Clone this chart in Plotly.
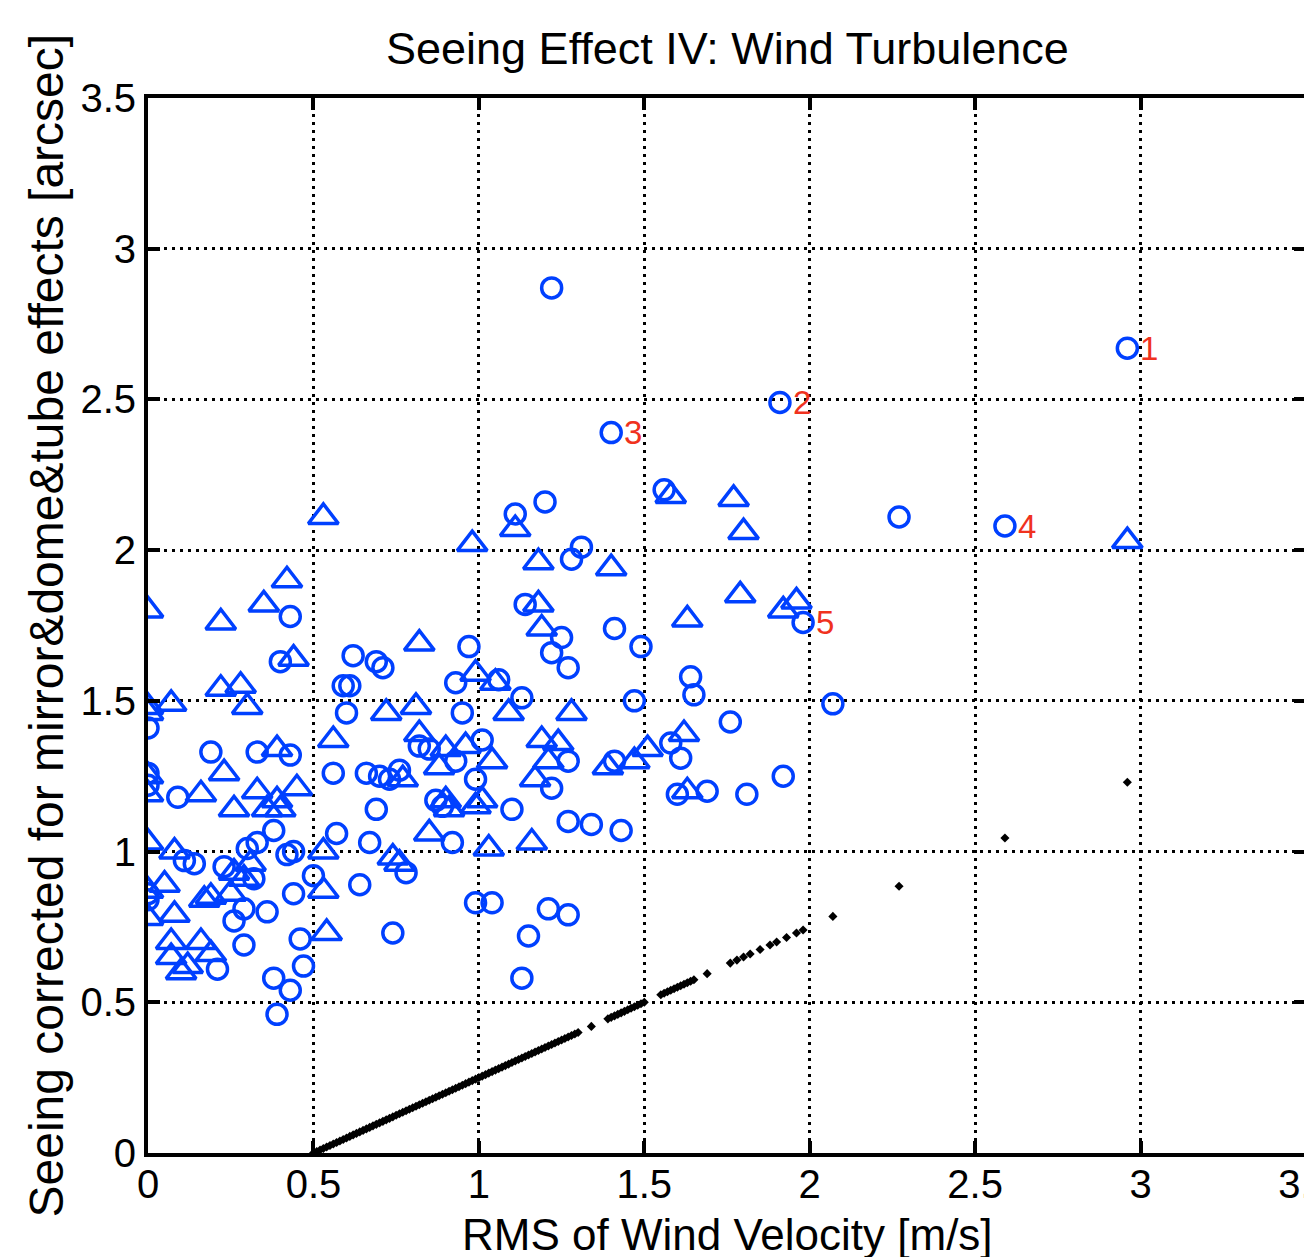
import plotly.graph_objects as go

# ---- data ----
circle_x = [1.22, 2.96, 1.91, 1.40, 2.27, 2.59, 1.98, 1.56, 1.20, 1.11,
            1.31, 1.28, 1.14, 1.41, 1.25, 1.22, 1.27, 1.49, 1.47, 1.13,
            1.64, 1.65, 2.07, 0.97, 0.95, 0.93, 1.06, 1.01, 1.27, 1.22,
            0.99, 0.87, 1.10, 1.58, 1.61, 1.41, 1.76, 1.92, 1.69, 1.81,
            1.60, 1.43, 1.34, 1.27, 1.27, 1.21, 1.15, 1.13, 0.99, 1.04,
            0.00, 0.00, 0.00, 0.00, 0.00, 0.09, 0.19, 0.33, 0.43, 0.40,
            0.43, 0.62, 0.59, 0.61, 0.60, 0.69, 0.71, 0.56, 0.66, 0.69,
            0.76, 0.78, 0.74, 0.67, 0.57, 0.64, 0.50, 0.44, 0.38, 0.30,
            0.23, 0.26, 0.29, 0.36, 0.29, 0.44, 0.46, 0.47, 0.43, 0.38,
            0.39, 0.21, 0.11, 0.14, 0.82, 0.93, 0.89, 0.92, 0.70, 0.73,
            0.33, 0.85, 0.32, 0.42]
circle_y = [2.87, 2.67, 2.49, 2.39, 2.11, 2.08, 1.76, 2.20, 2.16, 2.12,
            2.01, 1.97, 1.82, 1.74, 1.71, 1.66, 1.61, 1.68, 1.50, 1.51,
            1.58, 1.52, 1.49, 1.68, 1.46, 1.56, 1.57, 1.37, 1.30, 1.21,
            1.24, 1.17, 1.14, 1.36, 1.31, 1.30, 1.43, 1.25, 1.20, 1.19,
            1.19, 1.07, 1.09, 1.10, 0.79, 0.81, 0.72, 0.58, 0.83, 0.83,
            1.41, 1.26, 1.22, 0.86, 0.84, 1.18, 1.33, 1.33, 1.78, 1.63,
            1.32, 1.65, 1.55, 1.55, 1.46, 1.63, 1.61, 1.26, 1.26, 1.14,
            1.27, 0.93, 0.73, 1.03, 1.06, 0.89, 0.92, 1.00, 1.07, 1.01,
            0.95, 0.77, 0.69, 0.80, 0.81, 0.86, 0.71, 0.62, 0.54, 0.58,
            0.46, 0.61, 0.97, 0.96, 1.35, 1.30, 1.15, 1.03, 1.25, 1.24,
            1.03, 1.34, 0.91, 0.99]

tri_x = [0.00, 0.53, 0.98, 1.11, 1.18, 1.40, 1.58, 1.77, 1.80, 2.96,
         0.42, 0.35, 0.22, 0.44, 0.22, 0.28, 0.30, 0.07, 0.00, 1.18,
         1.19, 0.82, 1.79, 1.63, 1.92, 1.96, 0.99, 1.05, 0.81, 0.72,
         1.09, 1.28, 0.82, 0.90, 0.96, 0.88, 1.04, 1.19, 1.24, 1.21,
         1.17, 1.39, 1.47, 1.51, 1.62, 1.63, 0.56, 0.39, 0.45, 0.23,
         0.16, 0.33, 0.39, 0.00, 0.00, 0.00, 0.08, 0.05, 0.00, 0.08,
         0.00, 0.17, 0.19, 0.07, 0.16, 0.19, 0.07, 0.12, 0.10, 0.29,
         0.26, 0.25, 0.31, 0.54, 0.53, 0.53, 0.74, 0.36, 0.26, 0.40,
         0.85, 1.03, 1.16, 0.91, 0.99, 0.76, 0.77, 0.90, 1.01, 0.00]
tri_y = [1.80, 2.11, 2.02, 2.07, 1.96, 1.94, 2.18, 2.17, 2.06, 2.03,
         1.90, 1.82, 1.76, 1.64, 1.54, 1.55, 1.48, 1.49, 1.48, 1.82,
         1.74, 1.69, 1.85, 1.77, 1.80, 1.83, 1.59, 1.56, 1.48, 1.46,
         1.46, 1.46, 1.39, 1.34, 1.35, 1.28, 1.30, 1.37, 1.36, 1.30,
         1.24, 1.28, 1.30, 1.34, 1.39, 1.20, 1.37, 1.34, 1.21, 1.26,
         1.19, 1.20, 1.17, 1.25, 1.19, 1.03, 1.00, 0.89, 0.87, 0.79,
         0.78, 0.84, 0.85, 0.70, 0.70, 0.66, 0.65, 0.62, 0.60, 0.91,
         0.93, 0.86, 0.96, 0.73, 1.00, 0.87, 0.98, 1.14, 1.14, 1.14,
         1.06, 1.01, 1.03, 1.14, 1.15, 0.96, 1.24, 1.17, 1.17, 1.46]

dot_x = [0.50, 0.51, 0.52, 0.53, 0.54, 0.55, 0.56, 0.57, 0.58, 0.59,
         0.60, 0.61, 0.62, 0.63, 0.64, 0.65, 0.66, 0.67, 0.68, 0.69,
         0.70, 0.71, 0.72, 0.73, 0.74, 0.75, 0.76, 0.77, 0.78, 0.79,
         0.80, 0.81, 0.82, 0.83, 0.84, 0.85, 0.86, 0.87, 0.88, 0.89,
         0.90, 0.91, 0.92, 0.93, 0.94, 0.95, 0.96, 0.97, 0.98, 0.99,
         1.00, 1.01, 1.02, 1.03, 1.04, 1.05, 1.06, 1.07, 1.08, 1.09,
         1.10, 1.11, 1.12, 1.13, 1.14, 1.15, 1.16, 1.17, 1.18, 1.19,
         1.20, 1.21, 1.22, 1.23, 1.24, 1.25, 1.26, 1.27, 1.28, 1.29,
         1.30, 1.34, 1.39, 1.40, 1.41, 1.42, 1.43, 1.44, 1.45, 1.46,
         1.47, 1.48, 1.49, 1.50, 1.55, 1.56, 1.57, 1.58, 1.59, 1.60,
         1.61, 1.62, 1.63, 1.64, 1.65, 1.69, 1.76, 1.78, 1.80, 1.82,
         1.85, 1.88, 1.90, 1.93, 1.96, 1.98, 2.07, 2.27, 2.59, 2.96]
dot_y = [0.000, 0.005, 0.010, 0.015, 0.020, 0.025, 0.030, 0.035, 0.040, 0.045,
         0.050, 0.055, 0.060, 0.065, 0.070, 0.075, 0.080, 0.085, 0.090, 0.095,
         0.100, 0.105, 0.110, 0.115, 0.120, 0.125, 0.130, 0.135, 0.140, 0.145,
         0.150, 0.155, 0.160, 0.165, 0.170, 0.175, 0.180, 0.185, 0.190, 0.195,
         0.200, 0.205, 0.210, 0.215, 0.220, 0.225, 0.230, 0.235, 0.240, 0.245,
         0.250, 0.255, 0.260, 0.265, 0.270, 0.275, 0.280, 0.285, 0.290, 0.295,
         0.300, 0.305, 0.310, 0.315, 0.320, 0.325, 0.330, 0.335, 0.340, 0.345,
         0.350, 0.355, 0.360, 0.365, 0.370, 0.375, 0.380, 0.385, 0.390, 0.395,
         0.400, 0.420, 0.445, 0.450, 0.455, 0.460, 0.465, 0.470, 0.475, 0.480,
         0.485, 0.490, 0.495, 0.500, 0.525, 0.530, 0.535, 0.540, 0.545, 0.550,
         0.555, 0.560, 0.565, 0.570, 0.575, 0.595, 0.630, 0.640, 0.650, 0.660,
         0.675, 0.690, 0.700, 0.715, 0.730, 0.740, 0.785, 0.885, 1.045, 1.230]

label_text = ["1", "2", "3", "4", "5"]
label_x = [2.96, 1.91, 1.40, 2.59, 1.98]
label_y = [2.67, 2.49, 2.39, 2.08, 1.76]

tick_vals = [0, 0.5, 1, 1.5, 2, 2.5, 3, 3.5]
tick_text = ["0", "0.5", "1", "1.5", "2", "2.5", "3", "3.5"]

title_text = "Seeing Effect IV: Wind Turbulence"
x_title = "RMS of Wind Velocity [m/s]"
y_title = "Seeing corrected for mirror&dome&tube effects [arcsec]"

BLUE = "rgb(0,64,255)"
RED = "rgb(240,50,30)"
FONT = "Liberation Sans, Arial, sans-serif"

fig = go.Figure()
fig.add_trace(go.Scatter(x=dot_x, y=dot_y, mode="markers",
                         marker=dict(symbol="diamond", size=7, color="black"),
                         showlegend=False, hoverinfo="skip"))
fig.add_trace(go.Scatter(x=tri_x, y=tri_y, mode="markers",
                         marker=dict(symbol="triangle-up-open", size=26,
                                     color=BLUE, line=dict(width=3.5, color=BLUE)),
                         showlegend=False))
fig.add_trace(go.Scatter(x=circle_x, y=circle_y, mode="markers",
                         marker=dict(symbol="circle-open", size=20,
                                     color=BLUE, line=dict(width=3.5, color=BLUE)),
                         showlegend=False))

annotations = []
for t, x, y in zip(label_text, label_x, label_y):
    annotations.append(dict(x=x, y=y, xref="x", yref="y", text=t, showarrow=False,
                            xanchor="left", yanchor="middle", xshift=11,
                            font=dict(family=FONT, size=33, color=RED)))
annotations.append(dict(x=0.5, y=1, xref="paper", yref="paper", text=title_text,
                        showarrow=False, xanchor="center", yanchor="middle", yshift=50,
                        font=dict(family=FONT, size=45, color="black")))
annotations.append(dict(x=0.5, y=0, xref="paper", yref="paper", text=x_title,
                        showarrow=False, xanchor="center", yanchor="middle", yshift=-81,
                        font=dict(family=FONT, size=44, color="black")))
annotations.append(dict(x=0, y=0.5, xref="paper", yref="paper", text=y_title,
                        showarrow=False, xanchor="center", yanchor="middle", xshift=-102,
                        textangle=-90,
                        font=dict(family=FONT, size=48, color="black")))

axis_common = dict(
    showline=True, linewidth=4, linecolor="black", mirror="ticks",
    ticks="inside", ticklen=12, tickwidth=4, tickcolor="black",
    showgrid=True, gridcolor="black", gridwidth=2.5, griddash="3px,5px",
    zeroline=False, tickfont=dict(family=FONT, size=40, color="black"),
    tickvals=tick_vals, ticktext=tick_text, automargin=False,
    ticklabeloverflow="allow",
)

# the page body adds an 8px offset, so the figure is sized to compensate
fig.update_layout(
    width=1304, height=1249,
    margin=dict(l=140, r=6, t=90, b=104),
    paper_bgcolor="white", plot_bgcolor="white",
    xaxis=dict(range=[0, 3.5], ticklabelstandoff=-7, **axis_common),
    yaxis=dict(range=[0, 3.5], **axis_common),
    annotations=annotations,
    showlegend=False,
)

fig.write_html("out.html")
